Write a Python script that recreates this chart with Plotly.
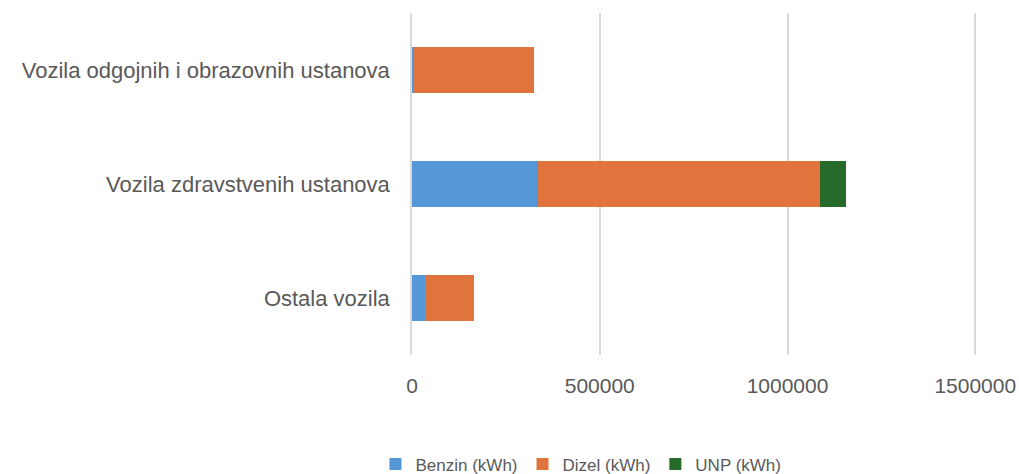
import plotly.graph_objects as go

# categories listed bottom to top (plotly draws horizontal categories upward)
categories = ["Ostala vozila", "Vozila zdravstvenih ustanova",
              "Vozila odgojnih i obrazovnih ustanova"]
benzin = [34000, 336500, 4500]
dizel = [131000, 749000, 321500]
unp = [0, 69500, 0]

series = [
    ("Benzin (kWh)", benzin, "#5596D6"),
    ("Dizel (kWh)", dizel, "#E1743D"),
    ("UNP (kWh)", unp, "#276B2B"),
]

fig = go.Figure()
for name, vals, color in series:
    fig.add_trace(go.Bar(y=categories, x=vals, name=name, orientation="h",
                         marker=dict(color=color, line=dict(width=0))))

fig.update_layout(
    barmode="stack",
    bargap=0.6,
    width=1019, height=474,
    margin=dict(l=412, r=40, t=13, b=119, autoexpand=False),
    plot_bgcolor="white", paper_bgcolor="white",
    font=dict(family="Liberation Sans, Arial, sans-serif", color="#595959"),
    legend=dict(orientation="h", x=0.298, xanchor="center", y=-0.32,
                yanchor="middle", font=dict(size=17), traceorder="normal"),
    xaxis=dict(range=[0, 1510000], tickvals=[0, 500000, 1000000, 1500000],
               tickformat="d", showgrid=True, gridcolor="#D9D9D9",
               gridwidth=1.5, zeroline=False, tickfont=dict(size=21),
               ticks="", ticklabelstandoff=16),
    yaxis=dict(showgrid=False, zeroline=False, tickfont=dict(size=22),
               ticks="", ticklabelstandoff=16, showline=True,
               linecolor="#D9D9D9", linewidth=1.5),
)

# drop the default 8px page margin so the figure fills the window exactly
fig.write_html("out.html", config={"displayModeBar": False},
               post_script="document.body.style.margin='0';")
